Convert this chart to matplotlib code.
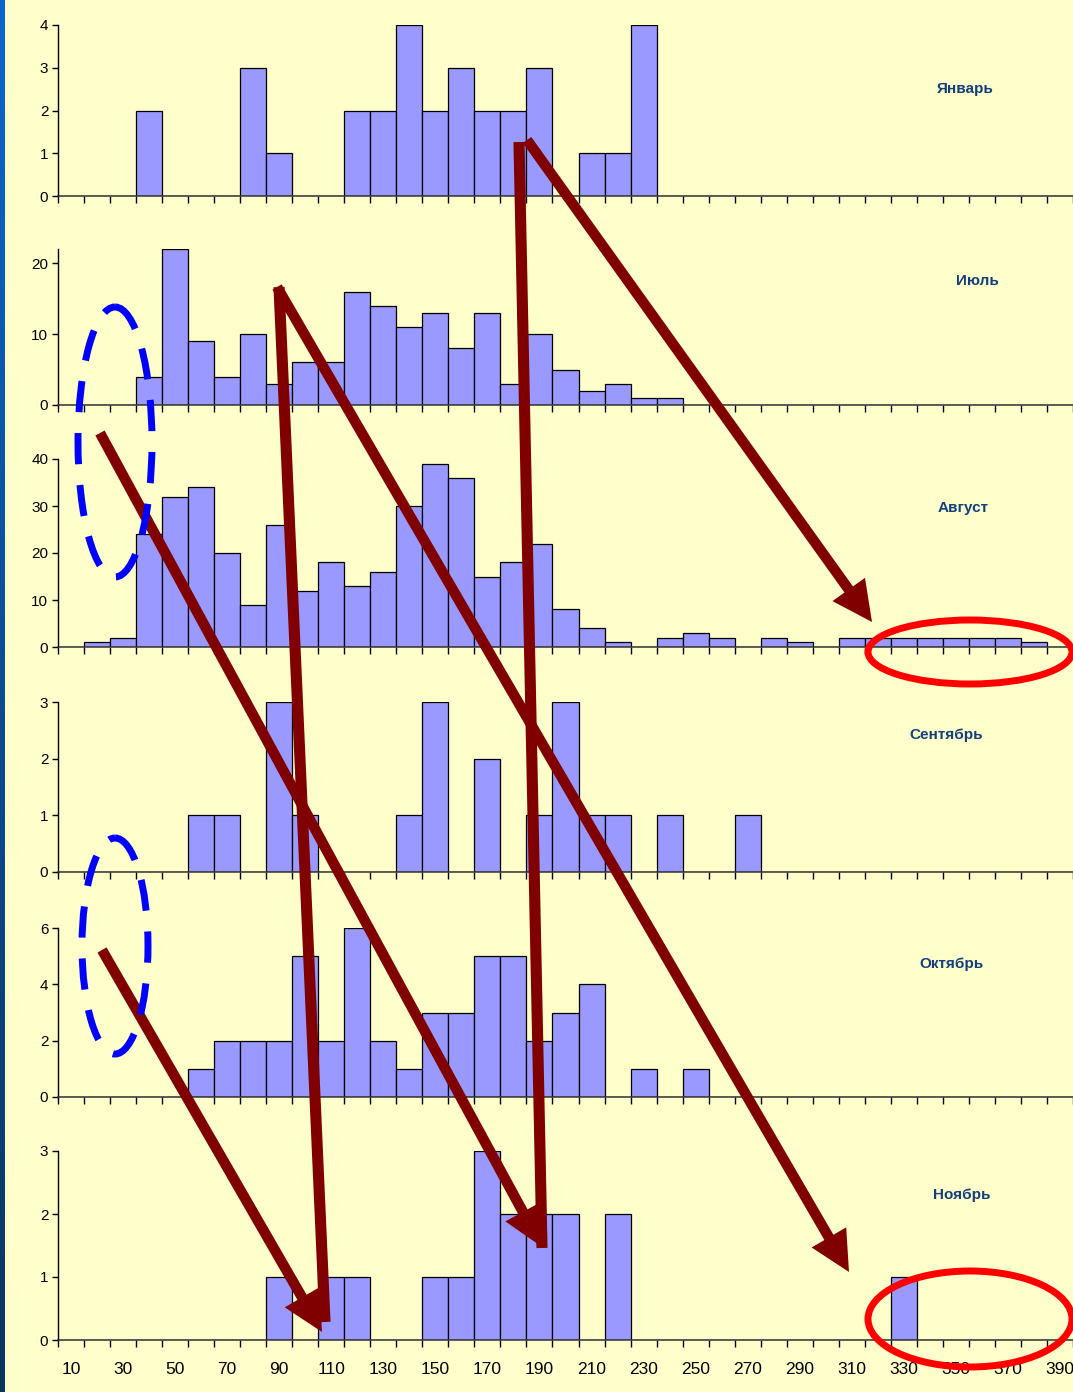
import matplotlib
matplotlib.use("Agg")
import matplotlib.pyplot as plt
import numpy as np
from matplotlib import font_manager
from matplotlib.patches import Ellipse, FancyArrow
from matplotlib.colors import LinearSegmentedColormap

# Histogram bins (lower value of each 10-unit class)
bins = list(range(10, 400, 10))

months = ["Январь", "Июль", "Август", "Сентябрь", "Октябрь", "Ноябрь"]

jan = [0, 0, 0, 2, 0, 0, 0, 3, 1, 0, 0, 2, 2, 4, 2, 3, 2, 2, 3, 0,
       1, 1, 4, 0, 0, 0, 0, 0, 0, 0, 0, 0, 0, 0, 0, 0, 0, 0, 0]
jul = [0, 0, 0, 4, 22, 9, 4, 10, 3, 6, 6, 16, 14, 11, 13, 8, 13, 3, 10, 5,
       2, 3, 1, 1, 0, 0, 0, 0, 0, 0, 0, 0, 0, 0, 0, 0, 0, 0, 0]
aug = [0, 1, 2, 24, 32, 34, 20, 9, 26, 12, 18, 13, 16, 30, 39, 36, 15, 18, 22, 8,
       4, 1, 0, 2, 3, 2, 0, 2, 1, 0, 2, 2, 2, 2, 2, 2, 2, 1, 0]
sep = [0, 0, 0, 0, 0, 1, 1, 0, 3, 1, 0, 0, 0, 1, 3, 0, 2, 0, 1, 3,
       1, 1, 0, 1, 0, 0, 1, 0, 0, 0, 0, 0, 0, 0, 0, 0, 0, 0, 0]
octo = [0, 0, 0, 0, 0, 1, 2, 2, 2, 5, 2, 6, 2, 1, 3, 3, 5, 5, 2, 3,
        4, 0, 1, 0, 1, 0, 0, 0, 0, 0, 0, 0, 0, 0, 0, 0, 0, 0, 0]
nov = [0, 0, 0, 0, 0, 0, 0, 0, 1, 0, 1, 1, 0, 0, 1, 1, 3, 2, 2, 2,
       0, 2, 0, 0, 0, 0, 0, 0, 0, 0, 0, 0, 1, 0, 0, 0, 0, 0, 0]

series = [jan, jul, aug, sep, octo, nov]
y_max = [4, 22, 40, 3, 6, 3]
y_ticks = [[0, 1, 2, 3, 4], [0, 10, 20], [0, 10, 20, 30, 40],
           [0, 1, 2, 3], [0, 2, 4, 6], [0, 1, 2, 3]]
x_labels = list(range(10, 400, 20))

W, H = 1073, 1392
DPI = 100
BG = "#FFFFCC"
BAR = "#9999FF"
NAVY = "#143F7C"
ARROW = "#800000"

installed = {f.name for f in font_manager.fontManager.ttflist}
tick_font = "Liberation Sans Narrow" if "Liberation Sans Narrow" in installed else "Liberation Sans"

fig = plt.figure(figsize=(W / DPI, H / DPI), dpi=DPI, facecolor=BG)

# Panel frames in pixels: (top of value axis, zero line)
frames = [(25, 196), (249, 405), (459, 647), (702, 872), (928, 1097), (1151, 1340)]
label_pos = [(965, 89), (977, 281), (963, 508), (946, 735), (952, 964), (962, 1195)]
x_left, x_right = 58, 1073

for i, (vals, (top, bottom)) in enumerate(zip(series, frames)):
    ax = fig.add_axes([x_left / W, 1 - bottom / H, (x_right - x_left) / W, (bottom - top) / H])
    ax.set_facecolor("none")
    ax.bar(bins, vals, width=10, align="center", color=BAR,
           edgecolor="black", linewidth=0.9, zorder=2)
    ax.set_xlim(5, 395)
    ax.set_ylim(0, y_max[i])
    ax.set_yticks(y_ticks[i])
    ax.set_yticklabels([str(t) for t in y_ticks[i]], fontsize=11, family=tick_font)
    ax.set_xticks(np.arange(5, 400, 10))
    ax.set_xticklabels([])
    ax.tick_params(axis="x", direction="out", length=5, width=1, color="black")
    ax.tick_params(axis="y", direction="out", length=4, width=1, color="black", pad=3)
    for s in ("top", "right"):
        ax.spines[s].set_visible(False)
    ax.spines["left"].set_linewidth(1)
    ax.spines["bottom"].set_linewidth(1.1)
    ax.spines["bottom"].set_color("#333333")
    if i == len(series) - 1:
        ax.set_xticks(x_labels, minor=True)
        ax.set_xticklabels([str(v) for v in x_labels], minor=True,
                           fontsize=12.5, family="Liberation Sans")
        ax.tick_params(axis="x", which="minor", length=0, pad=16)
    fig.text(label_pos[i][0] / W, 1 - label_pos[i][1] / H, months[i],
             ha="center", va="center", fontsize=11, fontweight="bold",
             color=NAVY, family="Liberation Sans")

# Overlay in pixel units for the hand-drawn highlights
ov = fig.add_axes([0, 0, 1, 1], zorder=10)
ov.set_facecolor("none")

# slide edge strip on the left
strip = np.linspace(0, 1, 200).reshape(-1, 1)
edge_cmap = LinearSegmentedColormap.from_list("edge", ["#0A66CC", "#0B4C94", "#0A3560"])
ov.imshow(strip, cmap=edge_cmap, extent=(0, 5, H, 0), aspect="auto", zorder=1)
ov.set_xlim(0, W)
ov.set_ylim(H, 0)
ov.axis("off")

# trend arrows: (x0, y0, x1, y1, with_head)
arrows = [
    (277, 287, 849, 1272, True),
    (102, 950, 322, 1332, True),
    (100, 433, 542, 1247, True),
    (519, 142, 542, 1248, False),
    (527, 140, 872, 622, True),
    (279, 287, 325, 1322, False),
]
for x0, y0, x1, y1, head in arrows:
    if head:
        ov.add_patch(FancyArrow(x0, y0, x1 - x0, y1 - y0, width=10.5,
                                head_width=40, head_length=40,
                                length_includes_head=True, color=ARROW,
                                linewidth=0, zorder=5))
    else:
        ov.plot([x0, x1], [y0, y1], color=ARROW, linewidth=8,
                solid_capstyle="butt", zorder=5)

# dashed blue ellipses around the early-season classes
for cx, cy, w, h in [(115, 442, 74, 270), (115, 946, 66, 216)]:
    ov.add_patch(Ellipse((cx, cy), w, h, fill=False, edgecolor="#0000FF",
                         linewidth=5, linestyle=(0, (4.5, 3)), zorder=6))

# red ellipses around the tail classes
for cx, cy, w, h in [(970, 652, 204, 64), (970, 1319, 204, 96)]:
    ov.add_patch(Ellipse((cx, cy), w, h, fill=False, edgecolor="#FF0000",
                         linewidth=5, zorder=6))

fig.savefig("out.png", dpi=DPI, facecolor=BG)
